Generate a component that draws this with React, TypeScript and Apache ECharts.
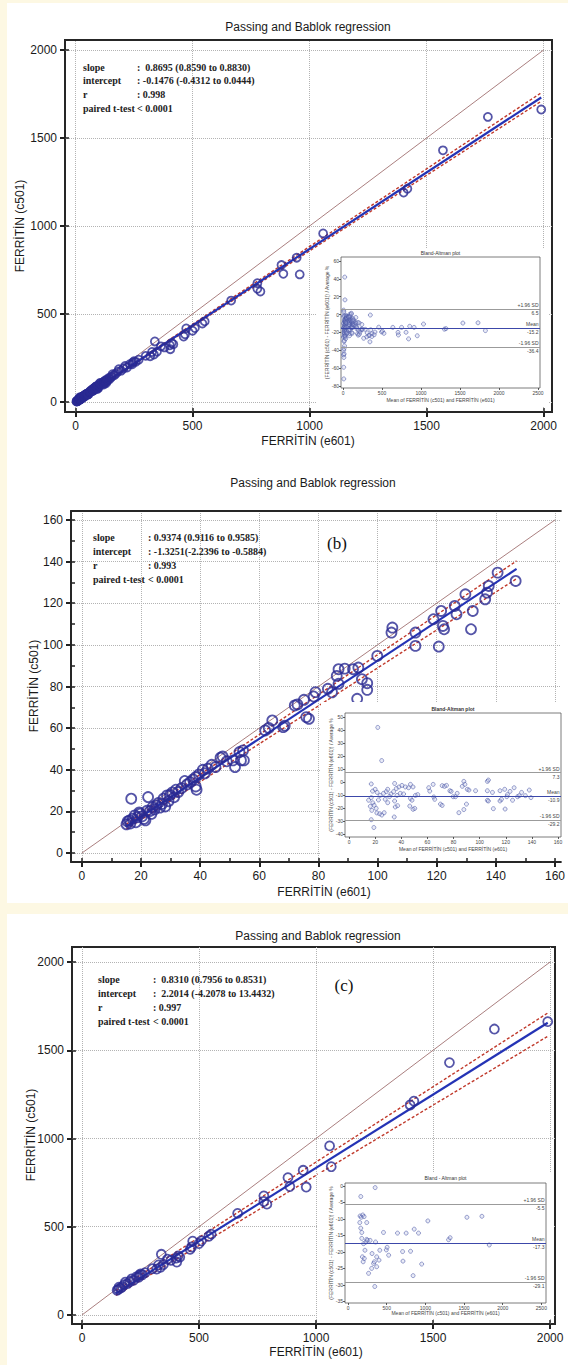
import React, { useEffect, useRef } from 'react';
import * as echarts from 'echarts';

const SANS = "'Liberation Sans', Arial, Helvetica, sans-serif";
const SERIF = "'Liberation Serif', 'Times New Roman', serif";

// ---------------- tick labels ----------------
const ticks2000 = [0, 500, 1000, 1500, 2000];
const ticks160 = [0, 20, 40, 60, 80, 100, 120, 140, 160];
const minor160 = [0, 10, 20, 30, 40, 50, 60, 70, 80, 90, 100, 110, 120, 130, 140, 150, 160];
const baX2500 = [0, 500, 1000, 1500, 2000, 2500];
const ba1YTicks = [-80, -60, -40, -20, 0, 20, 40, 60];
const ba2XTicks = [0, 20, 40, 60, 80, 100, 120, 140, 160];
const ba2YTicks = [-40, -30, -20, -10, 0, 10, 20, 30, 40, 50];
const ba3YTicks = [-35, -30, -25, -20, -15, -10, -5, 0];

// ---------------- statistics ----------------
const statLabels = ['slope', 'intercept', 'r', 'paired t-test'];
const stats1 = [':  0.8695 (0.8590 to 0.8830)', ': -0.1476 (-0.4312 to 0.0444)', ': 0.998', '< 0.0001'];
const stats2 = [': 0.9374 (0.9116 to 0.9585)', ': -1.3251(-2.2396 to -0.5884)', ': 0.993', '< 0.0001'];
const stats3 = [':  0.8310 (0.7956 to 0.8531)', ':  2.2014 (-4.2078 to 13.4432)', ': 0.997', '< 0.0001'];

// [slope, intercept]
const fit1 = [0.8695, -0.1476];
const fit1Lo = [0.859, -0.4312];
const fit1Hi = [0.883, 0.0444];
const fit2 = [0.9374, -1.3251];
const fit2Lo = [0.9116, -2.2396];
const fit2Hi = [0.9585, -0.5884];
const fit3 = [0.831, 2.2014];
const fit3Lo = [0.7956, -4.2078];
const fit3Hi = [0.8531, 13.4432];
const fitRange1 = [0, 1990];
const fitRange2 = [15, 147];
const fitRange3 = [145, 1990];
const idRange1 = [0, 2000];
const idRange2 = [0, 160];
const idRange3 = [0, 2000];

// Bland-Altman limits: [+1.96 SD, mean, -1.96 SD]
const ba1Lines = [6.5, -15.2, -36.4];
const ba2Lines = [7.3, -10.9, -29.2];
const ba3Lines = [-5.5, -17.3, -29.1];

// ---------------- scatter data: [e601, c501] ----------------
const lowScatter = [
  [15.1, 13.8], [15.5, 15.2], [16.1, 15.7], [16.4, 14.2], [16.7, 26.1], [17.2, 16.5], [17.9, 18.1], [18.3, 14.8],
  [18.8, 17.2], [19.4, 19.5], [19.7, 18.9], [20.3, 17.6], [21.0, 16.4], [21.5, 15.7], [22.0, 20.3], [22.4, 26.9],
  [23.1, 20.2], [23.5, 18.8], [23.9, 22.1], [24.6, 21.0], [25.2, 22.9], [25.8, 24.0], [26.4, 21.8], [27.1, 23.6],
  [27.6, 26.1], [28.2, 22.4], [28.8, 27.7], [29.3, 24.9], [29.8, 27.9], [30.6, 29.1], [31.2, 26.8], [31.8, 30.4],
  [32.6, 29.3], [33.7, 31.2], [34.8, 34.6], [35.6, 33.0], [36.6, 34.1], [37.6, 35.4], [38.5, 36.5], [38.8, 30.4],
  [38.5, 32.0], [39.6, 37.8], [40.9, 40.0], [41.6, 38.3], [42.6, 40.6], [43.9, 42.4], [45.2, 41.3], [46.9, 45.8],
  [47.6, 46.4], [49.0, 44.1], [51.1, 44.5], [51.8, 41.3], [53.3, 48.5], [53.8, 44.5], [54.5, 49.3], [54.8, 44.5],
  [62.0, 58.9], [63.2, 60.1], [64.4, 63.7], [68.1, 60.5], [68.6, 61.2], [72.0, 70.9], [72.9, 71.4], [75.1, 73.6],
  [75.9, 65.3], [76.8, 64.5], [78.4, 75.2], [79.0, 77.3], [83.2, 78.9], [84.6, 77.2], [86.2, 85.1], [86.8, 88.3],
  [86.8, 81.3], [88.9, 88.6], [91.7, 88.3], [93.1, 74.1], [93.5, 89.1], [94.7, 83.5], [96.5, 81.6], [96.5, 78.4],
  [99.9, 94.7], [104.7, 105.9], [105.0, 108.3], [112.8, 105.9], [112.8, 99.5], [118.9, 112.3], [120.7, 99.2],
  [121.5, 116.3], [122.1, 109.1], [122.5, 107.5], [126.1, 118.7], [126.7, 114.7], [129.7, 124.3], [131.6, 107.5],
  [132.2, 116.3], [136.4, 121.9], [137.0, 125.1], [137.6, 128.3], [140.6, 134.7], [146.7, 130.7],
];

const highScatter = [
  [150, 140], [155, 145], [158, 158], [165, 152], [172, 160], [181, 172], [185, 186], [195, 178], [205, 190],
  [212, 204], [220, 196], [232, 215], [242, 214], [245, 225], [250, 232], [258, 228], [270, 240], [300, 262],
  [319, 260], [327, 284], [335, 270], [339, 344], [348, 286], [365, 316], [380, 310], [405, 300], [403, 322],
  [411, 335], [418, 328], [462, 372], [468, 385], [473, 418], [500, 405], [510, 420], [542, 446], [552, 458],
  [665, 576], [777, 675], [777, 643], [790, 628], [880, 778], [888, 728], [945, 820], [958, 725], [1058, 958],
  [1065, 840], [1402, 1190], [1418, 1212], [1570, 1430], [1762, 1620], [1990, 1662],
];

const veryLowScatter = [[4, 4], [6, 6], [7, 4], [8, 8], [9, 5], [10, 10], [11, 7], [12, 9], [13, 9], [5, 3]];

const allScatter = [...veryLowScatter, ...lowScatter, ...highScatter];

// ---------------- Bland-Altman data: [mean, difference %] ----------------
const baLow = [
  [22, 42], [25, 16.5], [17, -1.5], [15, -14], [17, -29], [19, -35], [18, -7], [20, -5.6], [21.5, -8], [17, -12],
  [18.2, -16], [16.3, -18.7], [19.2, -17.9], [17.4, -21.8], [21.3, -23.8], [23.4, -24.4], [25.1, -25.4], [26.9, -23.6],
  [20.8, -20.3], [22.5, -13.8], [23.8, -10.3], [26.4, -8.7], [28.5, -7.4], [29.6, -5.6], [32.1, -9.2], [31, -11.2],
  [34.1, -7.4], [27.7, -13.3], [29.6, -15.9], [34.9, -1.1], [36.2, -5], [38.2, -3.8], [40.5, -2.6], [43.1, -3.8],
  [45.6, -4.4], [47, -1.8], [49, -3.8], [50.8, -10.3], [36.7, -10.3], [34.9, -14.6], [35.4, -19.2], [37.2, -18.2],
  [34.6, -26.9], [39.2, -8.7], [41.8, -9.2], [47, -12.6], [46.5, -18.5], [49, -21], [50.3, -20.3], [48.2, -14],
  [52.6, -9.7], [61, -4.4], [61.8, -7], [64.4, -1.8], [64.9, -11.5], [65.6, -13.3], [71.3, -2.8], [73.1, -3.3],
  [74.6, -2.6], [70, -17], [71.3, -18], [77.2, -6.7], [78.2, -7.2], [79.7, -11.3], [81.5, -11.3], [82.8, -8.7],
  [84.1, -23.6], [86.7, -3.3], [87.9, 0.5], [88.7, -1.8], [87.9, -21.2], [89.9, -17], [90.5, -5.6], [91.8, -6.2],
  [96.9, -6.7], [105.9, 0.5], [106.7, 1.5], [105.9, -6.7], [105.9, -14.1], [106.7, -14.6], [109.8, -8], [110.5, -20.5],
  [115.6, -6.7], [115.6, -14.6], [116.7, -13.3], [119.2, -5.6], [119.5, -20.8], [120.8, -11.3], [121.3, -9.7],
  [123.3, -7.2], [125.2, -14], [126.4, -4.4], [129, -11.3], [130.3, -10.5], [132.1, -8], [135, -10.5], [138, -6.2],
  [139.3, -12],
];

const baHigh = [
  [151, -11.1], [155, -9.1], [164, -3.2], [164, -12.8], [170, -9.5], [177, -14.1], [177, -15.9], [185, -21.5],
  [190, -8.8], [195, -23], [200, -17.5], [207, -9.3], [210, -22], [218, -19.5], [230, -17], [241, -11.1],
  [241, -16.2], [250, -16.5], [265, -26.5], [285, -16.5], [305, -25], [310, -20.5], [330, -23.5], [340, -23],
  [345, -30.5], [350, -0.5], [355, -17], [370, -21.5], [370, -24.5], [400, -22.5], [410, -19.5], [458, -14.1],
  [494, -19.4], [505, -18.6], [525, -21], [639, -14.3], [705, -19.9], [710, -22.8], [751, -14.3], [808, -19.8],
  [841, -27.2], [855, -13.1], [911, -14.3], [952, -23.7], [1032, -10.6], [1300, -16.3], [1320, -15.7],
  [1537, -9.5], [1731, -9.2], [1826, -17.9],
];

const baVeryLow = [
  [5, -25], [6, -2], [7, -45], [8, 5], [8, -40], [9, -59], [10, -72], [10, 3], [11, -48], [12, -30], [12, -20],
  [13, -38], [6, -10], [14, -44], [4, -15],
];

const baAll = [...baVeryLow, ...baLow, ...baHigh];

// ---------------- layout ----------------
const panels: any[] = [
  {
    grid: { left: 65, top: 40, width: 487, height: 372 }, closedFrame: true,
    x: [-45, 2036], y: [-57, 2057],
    xTicks: ticks2000, yTicks: ticks2000, innerX: ticks2000, innerY: ticks2000,
    scatter: allScatter, symbolSize: 8,
    fit: fit1, fitLo: fit1Lo, fitHi: fit1Hi, fitRange: fitRange1, idRange: idRange1,
    title: [308, 27], xTitle: [308, 441], yTitle: [20, 226],
    stats: stats1, statPos: [83, 137, 67, 13.8], tag: null,
    inset: {
      rect: [316, 248, 232, 158], grid: { left: 341, top: 257, width: 199, height: 131 },
      x: [-26, 2526], y: [-82.2, 64.5], xTicks: baX2500, yTicks: ba1YTicks,
      data: baAll, lines: ba1Lines, title: 'Bland-Altman plot', titleY: 253, yTitleX: 327, xTitleY: 400,
    },
  },
  {
    grid: { left: 71, top: 511, width: 497, height: 351 }, closedFrame: false,
    x: [-3.67, 162], y: [-4.3, 164.3],
    xTicks: ticks160, yTicks: ticks160, innerX: minor160, innerY: minor160,
    scatter: lowScatter, symbolSize: 10,
    fit: fit2, fitLo: fit2Lo, fitHi: fit2Hi, fitRange: fitRange2, idRange: idRange2,
    title: [313, 483], xTitle: [324, 892], yTitle: [34, 686],
    stats: stats2, statPos: [93, 148, 537, 14], tag: ['(b)', 337, 543],
    inset: {
      rect: [321, 702, 250, 156], grid: { left: 345, top: 713, width: 216, height: 124 },
      x: [-3.1, 162.3], y: [-42.3, 53.1], xTicks: ba2XTicks, yTicks: ba2YTicks,
      data: baLow, lines: ba2Lines, title: 'Bland-Altman plot', titleY: 709, yTitleX: 331, xTitleY: 849, bold: true,
    },
  },
  {
    grid: { left: 72, top: 947, width: 483, height: 377 }, closedFrame: true,
    x: [-42.7, 2021], y: [-51, 2085],
    xTicks: ticks2000, yTicks: ticks2000, innerX: ticks2000, innerY: ticks2000,
    scatter: highScatter, symbolSize: 9,
    fit: fit3, fitLo: fit3Lo, fitHi: fit3Hi, fitRange: fitRange3, idRange: idRange3,
    title: [318, 936], xTitle: [316, 1352], yTitle: [31, 1135],
    stats: stats3, statPos: [98, 153, 979, 14], tag: ['(c)', 344, 985],
    inset: {
      rect: [318, 1172, 235, 146], grid: { left: 345, top: 1183, width: 201, height: 120 },
      x: [-40, 2560], y: [-35.5, 0.9], xTicks: baX2500, yTicks: ba3YTicks,
      data: baHigh, lines: ba3Lines, title: 'Bland - Altman plot', titleY: 1178, yTitleX: 331, xTitleY: 1313,
    },
  },
];

const lineFrom = (coef: number[], range: number[]) => range.map((x) => [x, coef[0] * x + coef[1]]);
const plain = (v: number) => String(v);
const FRAME = '#262626';

function buildOption() {
  const grid: any[] = [];
  const xAxis: any[] = [];
  const yAxis: any[] = [];
  const series: any[] = [];
  const graphic: any[] = [];

  graphic.push({ type: 'rect', shape: { x: 7, y: 3, width: 561, height: 900 }, style: { fill: '#ffffff' }, z: -5, silent: true });
  graphic.push({ type: 'rect', shape: { x: 7, y: 914, width: 561, height: 451 }, style: { fill: '#ffffff' }, z: -5, silent: true });

  panels.forEach((p) => {
    const gi = grid.length;
    const closed = p.closedFrame;
    grid.push({ ...p.grid, show: true, borderColor: FRAME, borderWidth: closed ? 2 : 0, backgroundColor: 'rgba(0,0,0,0)', z: 1 });
    const frameLine = { show: !closed, onZero: false, lineStyle: { color: FRAME, width: 2 } };
    const xi = xAxis.length;
    xAxis.push({
      type: 'value', gridIndex: gi, position: 'bottom', min: p.x[0], max: p.x[1], z: 3,
      axisLine: frameLine,
      axisTick: { show: true, customValues: p.xTicks, length: 5, lineStyle: { color: '#222', width: 2 } },
      axisLabel: { customValues: p.xTicks, formatter: plain, margin: 8, fontSize: 12, color: '#1a1a1a', fontFamily: SANS },
      splitLine: { show: false },
    });
    xAxis.push({
      type: 'value', gridIndex: gi, position: 'bottom', min: p.x[0], max: p.x[1], z: 3,
      axisLine: { show: false, onZero: false },
      axisTick: { show: true, inside: true, customValues: p.innerX, length: 4, lineStyle: { color: '#222', width: 1.5 } },
      axisLabel: { show: false },
      splitLine: { show: false },
    });
    if (!closed) {
      xAxis.push({
        type: 'value', gridIndex: gi, position: 'top', min: p.x[0], max: p.x[1], z: 3,
        axisLine: frameLine, axisTick: { show: false }, axisLabel: { show: false }, splitLine: { show: false },
      });
    }
    const yi = yAxis.length;
    yAxis.push({
      type: 'value', gridIndex: gi, position: 'left', min: p.y[0], max: p.y[1], z: 3,
      axisLine: frameLine,
      axisTick: { show: true, customValues: p.yTicks, length: 5, lineStyle: { color: '#222', width: 2 } },
      axisLabel: { customValues: p.yTicks, formatter: plain, margin: 8, fontSize: 12, color: '#1a1a1a', fontFamily: SANS },
      splitLine: { show: false },
    });
    yAxis.push({
      type: 'value', gridIndex: gi, position: 'left', min: p.y[0], max: p.y[1], z: 3,
      axisLine: { show: false, onZero: false },
      axisTick: { show: true, inside: true, customValues: p.innerY, length: 4, lineStyle: { color: '#222', width: 1.5 } },
      axisLabel: { show: false },
      splitLine: { show: false },
    });

    const common = { xAxisIndex: xi, yAxisIndex: yi, showSymbol: false, symbol: 'none', silent: true };
    series.push({
      ...common, type: 'line', z: 2, data: lineFrom([1, 0], p.idRange),
      lineStyle: { color: '#a07070', width: 0.9 },
      markLine: {
        silent: true, z: 1, symbol: ['none', 'none'], label: { show: false },
        lineStyle: { color: '#b3b3b3', type: 'dotted', width: 1 },
        data: [...p.xTicks.map((v: number) => ({ xAxis: v })), ...p.yTicks.map((v: number) => ({ yAxis: v }))],
      },
    });
    series.push({ ...common, type: 'line', z: 3, data: lineFrom(p.fitHi, p.fitRange), lineStyle: { color: '#c0392b', width: 1.4, type: [3, 2] } });
    series.push({ ...common, type: 'line', z: 3, data: lineFrom(p.fitLo, p.fitRange), lineStyle: { color: '#c0392b', width: 1.4, type: [3, 2] } });
    series.push({ ...common, type: 'line', z: 3, data: lineFrom(p.fit, p.fitRange), lineStyle: { color: '#2433b5', width: 2.2 } });
    series.push({
      type: 'scatter', xAxisIndex: xi, yAxisIndex: yi, z: 4, silent: true, data: p.scatter,
      symbol: 'circle', symbolSize: p.symbolSize,
      itemStyle: { color: 'rgba(0,0,0,0)', borderColor: '#2a2a92', borderWidth: 1.8 },
    });

    // texts
    graphic.push({ type: 'text', x: p.title[0], y: p.title[1], z: 20, silent: true,
      style: { text: 'Passing and Bablok regression', fontSize: 12, fontFamily: SANS, fill: '#1a1a1a', align: 'center', verticalAlign: 'middle' } });
    graphic.push({ type: 'text', x: p.xTitle[0], y: p.xTitle[1], z: 20, silent: true,
      style: { text: 'FERRİTİN (e601)', fontSize: 12, fontFamily: SANS, fill: '#1a1a1a', align: 'center', verticalAlign: 'middle' } });
    graphic.push({ type: 'text', x: p.yTitle[0], y: p.yTitle[1], rotation: Math.PI / 2, z: 20, silent: true,
      style: { text: 'FERRİTİN (c501)', fontSize: 12, fontFamily: SANS, fill: '#1a1a1a', align: 'center', verticalAlign: 'middle' } });
    const [lx, vx, y0, dy] = p.statPos;
    statLabels.forEach((lab, i) => {
      graphic.push({ type: 'text', x: lx, y: y0 + i * dy, z: 20, silent: true,
        style: { text: lab, fontSize: 10, fontWeight: 'bold', fontFamily: SERIF, fill: '#222', align: 'left', verticalAlign: 'middle' } });
      graphic.push({ type: 'text', x: vx, y: y0 + i * dy, z: 20, silent: true,
        style: { text: p.stats[i], fontSize: 10, fontWeight: 'bold', fontFamily: SERIF, fill: '#222', align: 'left', verticalAlign: 'middle' } });
    });
    if (p.tag) {
      graphic.push({ type: 'text', x: p.tag[1], y: p.tag[2], z: 20, silent: true,
        style: { text: p.tag[0], fontSize: 17, fontFamily: SERIF, fill: '#111', align: 'center', verticalAlign: 'middle' } });
    }

    // inset Bland-Altman
    const ins = p.inset;
    graphic.push({ type: 'rect', shape: { x: ins.rect[0], y: ins.rect[1], width: ins.rect[2], height: ins.rect[3] },
      style: { fill: '#ffffff' }, z: 6, silent: true });
    const bgi = grid.length;
    grid.push({ ...ins.grid, show: true, borderColor: '#5a5a5a', borderWidth: 0.8, backgroundColor: '#ffffff', z: 10 });
    const bxi = xAxis.length;
    xAxis.push({
      type: 'value', gridIndex: bgi, position: 'bottom', min: ins.x[0], max: ins.x[1], z: 11,
      axisLine: { show: false, onZero: false },
      axisTick: { show: true, customValues: ins.xTicks, length: 2, lineStyle: { color: '#333', width: 0.8 } },
      axisLabel: { customValues: ins.xTicks, formatter: plain, margin: 2, fontSize: 5, color: '#444', fontFamily: SANS },
      splitLine: { show: false },
    });
    const byi = yAxis.length;
    yAxis.push({
      type: 'value', gridIndex: bgi, position: 'left', min: ins.y[0], max: ins.y[1], z: 11,
      axisLine: { show: false, onZero: false },
      axisTick: { show: true, customValues: ins.yTicks, length: 2, lineStyle: { color: '#333', width: 0.8 } },
      axisLabel: { customValues: ins.yTicks, formatter: plain, margin: 2, fontSize: 5, color: '#444', fontFamily: SANS },
      splitLine: { show: false },
    });
    const lim = ins.lines;
    const lab = (txt: string, pos: string) => ({ show: true, formatter: txt, position: pos, fontSize: 5, color: '#444', fontFamily: SANS, distance: 1.5 });
    series.push({
      type: 'scatter', xAxisIndex: bxi, yAxisIndex: byi, z: 12, silent: true, data: ins.data,
      symbol: 'circle', symbolSize: 4,
      itemStyle: { color: 'rgba(175,182,228,0.35)', borderColor: '#4c58a6', borderWidth: 0.7 },
      markLine: {
        silent: true, z: 13, symbol: ['none', 'none'],
        data: [
          { yAxis: lim[0], lineStyle: { color: '#9a9a9a', width: 0.9, type: 'solid' }, label: lab('+1.96 SD', 'insideEndTop') },
          { yAxis: lim[0], lineStyle: { color: '#9a9a9a', width: 0.9, type: 'solid' }, label: lab(String(lim[0]), 'insideEndBottom') },
          { yAxis: lim[1], lineStyle: { color: '#3a46a8', width: 0.9, type: 'solid' }, label: lab('Mean', 'insideEndTop') },
          { yAxis: lim[1], lineStyle: { color: '#3a46a8', width: 0.9, type: 'solid' }, label: lab(String(lim[1]), 'insideEndBottom') },
          { yAxis: lim[2], lineStyle: { color: '#9a9a9a', width: 0.9, type: 'solid' }, label: lab('-1.96 SD', 'insideEndTop') },
          { yAxis: lim[2], lineStyle: { color: '#9a9a9a', width: 0.9, type: 'solid' }, label: lab(String(lim[2]), 'insideEndBottom') },
        ],
      },
    });
    const gcx = ins.grid.left + ins.grid.width / 2;
    const gcy = ins.grid.top + ins.grid.height / 2;
    graphic.push({ type: 'text', x: gcx, y: ins.titleY, z: 20, silent: true,
      style: { text: ins.title, fontSize: 5, fontWeight: ins.bold ? 'bold' : 'normal', fontFamily: SANS, fill: '#333', align: 'center', verticalAlign: 'middle' } });
    graphic.push({ type: 'text', x: gcx, y: ins.xTitleY, z: 20, silent: true,
      style: { text: 'Mean of FERRİTİN (c501) and FERRİTİN (e601)', fontSize: 5, fontFamily: SANS, fill: '#444', align: 'center', verticalAlign: 'middle' } });
    graphic.push({ type: 'text', x: ins.yTitleX, y: gcy, rotation: Math.PI / 2, z: 20, silent: true,
      style: { text: '(FERRİTİN (c501) - FERRİTİN (e601)) / Average %', fontSize: 5, fontFamily: SANS, fill: '#444', align: 'center', verticalAlign: 'middle' } });
  });

  return {
    animation: false,
    backgroundColor: '#fdf8e3',
    grid, xAxis, yAxis, series, graphic,
  };
}

export default function App() {
  const ref = useRef<HTMLDivElement>(null);
  useEffect(() => {
    document.body.style.margin = '0';
    if (!ref.current) return;
    const chart = echarts.init(ref.current, undefined, { renderer: 'svg' });
    chart.setOption(buildOption() as any);
    return () => chart.dispose();
  }, []);
  return <div ref={ref} style={{ width: 568, height: 1365 }} />;
}
